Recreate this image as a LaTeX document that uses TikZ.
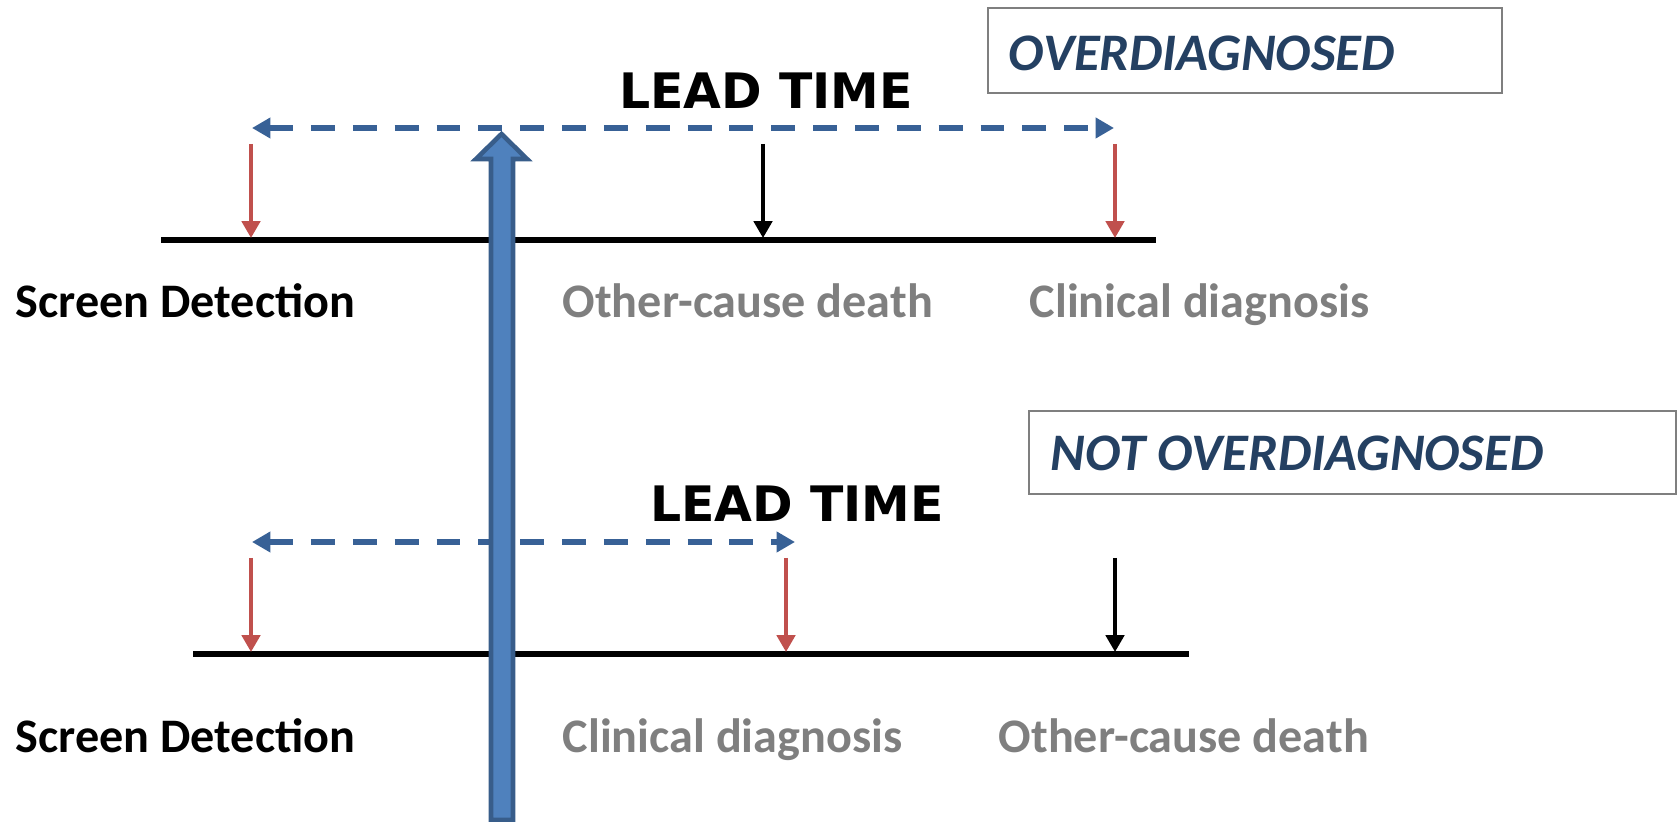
\documentclass[tikz,border=0pt]{standalone}
\usepackage{fontspec}
\setmainfont{Carlito}
\newfontfamily\leadfont{DejaVu Sans}
\usetikzlibrary{arrows.meta}
\usetikzlibrary{positioning}
\definecolor{brick}{RGB}{192, 80, 77}
\definecolor{steel}{RGB}{56, 97, 150}
\definecolor{cornflower}{RGB}{79, 129, 189}
\definecolor{denim}{RGB}{56, 93, 138}
\definecolor{navy}{RGB}{36, 64, 98}
\definecolor{ash}{RGB}{127, 127, 127}

\tikzset{
    timeline/.style   = {black, line width=1.6pt},
    event/.style      = {line width=1.1pt, -{Triangle[length=4.8pt,width=5.2pt]}},
    leadtime/.style   = {steel, line width=1.9pt, dash pattern=on 6.8pt off 5.1pt,
                         {Triangle[length=5.2pt,width=5.6pt]}-{Triangle[length=5.2pt,width=5.6pt]}},
    leadlabel/.style  = {anchor=base, inner sep=0pt, font=\leadfont\fontsize{13.9}{16}\bfseries},
    screenlabel/.style= {anchor=base west, inner sep=0pt, font=\fontsize{13.7}{16}\bfseries},
    outcome/.style    = {screenlabel, text=ash},
    verdict/.style    = {draw=ash, line width=0.5pt, anchor=north west, inner sep=0pt},
    verdicttext/.style= {anchor=base west, inner sep=0pt, text=navy,
                         font=\fontsize{15}{18}\bfseries\itshape}
}

\begin{document}
\begin{tikzpicture}[x=0.01cm, y=-0.01cm]
            \useasboundingbox (0,0) rectangle (1679,822);

            % upper case: overdiagnosed
            \node[verdict, minimum width=5.14cm, minimum height=0.85cm] (over) at (987,7) {};
            \node[verdicttext] (overtext) at (1008,71) {OVERDIAGNOSED};
            \node[leadlabel] (leadA) at (766,109) {LEAD TIME};
            \coordinate (lineAstart) at (161,240);
            \coordinate (lineAend)   at (1156,240);
            \draw[timeline] (lineAstart) -- (lineAend);
            \coordinate (dashAleft)  at (252,128);
            \coordinate (dashAright) at (1114,128);
            \draw[leadtime] (dashAleft) -- (dashAright);
            \coordinate (screenAtop) at (251,144);  \coordinate (screenAhit) at (251,238);
            \coordinate (deathAtop)  at (763,144);  \coordinate (deathAhit)  at (763,238);
            \coordinate (clinAtop)   at (1115,144); \coordinate (clinAhit)   at (1115,238);
            \draw[event, brick] (screenAtop) -- (screenAhit);
            \draw[event, black] (deathAtop) -- (deathAhit);
            \draw[event, brick] (clinAtop) -- (clinAhit);
            \node[screenlabel] (screenA) at (15,318) {Screen Detection};
            \node[outcome] (deathA) at (562,318) {Other-cause death};
            \node[outcome] (clinA)  at (1029,318) {Clinical diagnosis};

            % lower case: not overdiagnosed
            \node[verdict, minimum width=6.47cm, minimum height=0.83cm] (notover) at (1028,410) {};
            \node[verdicttext] (notovertext) at (1050,471) {NOT OVERDIAGNOSED};
            \node[leadlabel] (leadB) at (797,522) {LEAD TIME};
            \coordinate (lineBstart) at (193,654);
            \coordinate (lineBend)   at (1189,654);
            \draw[timeline] (lineBstart) -- (lineBend);
            \coordinate (dashBleft)  at (252,542);
            \coordinate (dashBright) at (795,542);
            \draw[leadtime] (dashBleft) -- (dashBright);
            \coordinate (screenBtop) at (251,558);  \coordinate (screenBhit) at (251,652);
            \coordinate (clinBtop)   at (786,558);  \coordinate (clinBhit)   at (786,652);
            \coordinate (deathBtop)  at (1115,558); \coordinate (deathBhit)  at (1115,652);
            \draw[event, brick] (screenBtop) -- (screenBhit);
            \draw[event, brick] (clinBtop) -- (clinBhit);
            \draw[event, black] (deathBtop) -- (deathBhit);
            \node[screenlabel] (screenB) at (15,752) {Screen Detection};
            \node[outcome] (clinB)  at (562,752) {Clinical diagnosis};
            \node[outcome] (deathB) at (998,752) {Other-cause death};

            % the screening moment, crossing both cases
            \filldraw[draw=denim, fill=cornflower, line width=1.3pt, line join=miter]
                 (491,820) -- (491,159) -- (476,159) -- (501.5,134) -- (527,159)
                 -- (513,159) -- (513,820) -- cycle;
        \end{tikzpicture}
\end{document}
